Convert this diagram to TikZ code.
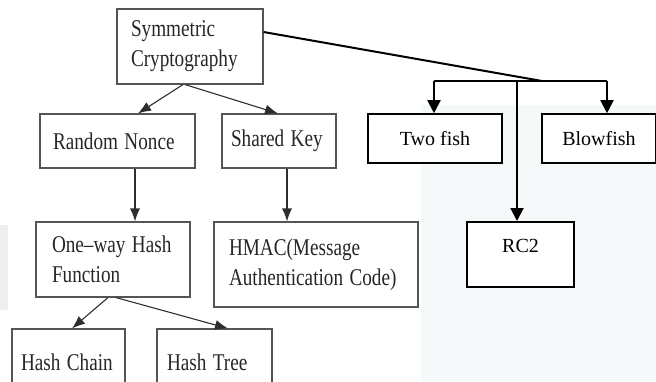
\documentclass[tikz,border=0pt]{standalone}
\usepackage{fontspec}
\usepackage{graphicx}
\setmainfont{Liberation Serif}
\newcommand{\sq}[1]{\scalebox{0.8}[1]{#1}}
\usetikzlibrary{arrows.meta}
\definecolor{scanline}{HTML}{2E2E2E}
\definecolor{scanbox}{HTML}{555555}
\definecolor{wmark}{HTML}{F6F9FA}
\definecolor{edgeblob}{HTML}{EFEFEF}
\tikzset{
  leftbox/.style={draw=scanbox, line width=1.1pt, inner sep=0pt, align=left,
    font=\fontsize{24}{30}\selectfont, text=black!85},
  rightbox/.style={draw=black, fill=white, line width=1.6pt, inner sep=0pt, align=center,
    font=\fontsize{20}{24}\selectfont},
  leftarrow/.style={draw=scanline, line width=1.1pt, -{Latex[length=13pt,width=10pt]}},
  rightline/.style={draw=black, line width=2pt},
  rightarrow/.style={rightline, -{Triangle[length=13pt,width=13pt]}},
}
\begin{document}
\begin{tikzpicture}[x=1pt,y=-1pt]
\useasboundingbox (0,0) rectangle (656,381);
\clip (0,0) rectangle (656,381);
% faint background of the scan
\fill[wmark] (421,105) rectangle (656,381);
\fill[edgeblob] (0,225) rectangle (8,310);
% left (scanned) part
\node[leftbox, minimum width=146pt, minimum height=75pt, text width=118pt] (symm) at (190,46.5) {\sq{Symmetric}\\\sq{Cryptography}};
\node[leftbox, minimum width=155pt, minimum height=54pt, text width=129pt] (rn) at (117.5,141) {\sq{Random Nonce}};
\node[leftbox, minimum width=114pt, minimum height=54pt, text width=96pt] (sk) at (279,141) {\sq{Shared Key}};
\node[leftbox, minimum width=154pt, minimum height=75pt, text width=122pt] (ow) at (113,259.5) {\sq{One–way Hash}\\\sq{Function}};
\node[leftbox, minimum width=204pt, minimum height=85pt, text width=174pt] (hmac) at (316,264.5) {\sq{HMAC(Message}\\\sq{Authentication Code)}};
\node[leftbox, minimum width=113pt, minimum height=66pt, text width=95pt] (hc) at (68.5,362) {\sq{Hash Chain}};
\node[leftbox, minimum width=115pt, minimum height=66pt, text width=95pt] (ht) at (214.5,362) {\sq{Hash Tree}};
\draw[leftarrow] ([xshift=-7pt]symm.south) -- ([xshift=20.5pt]rn.north);
\draw[leftarrow] ([xshift=-5pt]symm.south) -- ([xshift=-1pt]sk.north);
\draw[leftarrow] ([xshift=17.5pt]rn.south) -- ([xshift=17.5pt]rn.south |- ow.north);
\draw[leftarrow] ([xshift=8pt]sk.south) -- ([xshift=8pt]sk.south |- hmac.north);
\draw[leftarrow] ([xshift=-5pt]ow.south) -- ([xshift=3.5pt]hc.north);
\draw[leftarrow] ([xshift=3pt]ow.south) -- ([xshift=13.5pt]ht.north);
% right part
\node[rightbox, minimum width=134pt, minimum height=49pt] (tf) at (435,138.5) {Two fish};
\node[rightbox, minimum width=114pt, minimum height=49pt] (bf) at (599,138.5) {Blowfish};
\node[rightbox, minimum width=107pt, minimum height=65pt, anchor=north, text depth=17pt] (rc) at (520.5,221) {RC2};
\coordinate (j) at (542,81);
\coordinate (bl) at (434,81);
\coordinate (br) at (607,81);
\coordinate (bm) at (517,81);
\draw[rightline] ([yshift=14.5pt]symm.east) -- (j);
\draw[rightline] (bl) -- (br);
\draw[rightarrow] (bl) -- (bl |- tf.north);
\draw[rightarrow] (br) -- (br |- bf.north);
\draw[rightarrow] (bm) -- (bm |- rc.north);
\end{tikzpicture}
\end{document}
